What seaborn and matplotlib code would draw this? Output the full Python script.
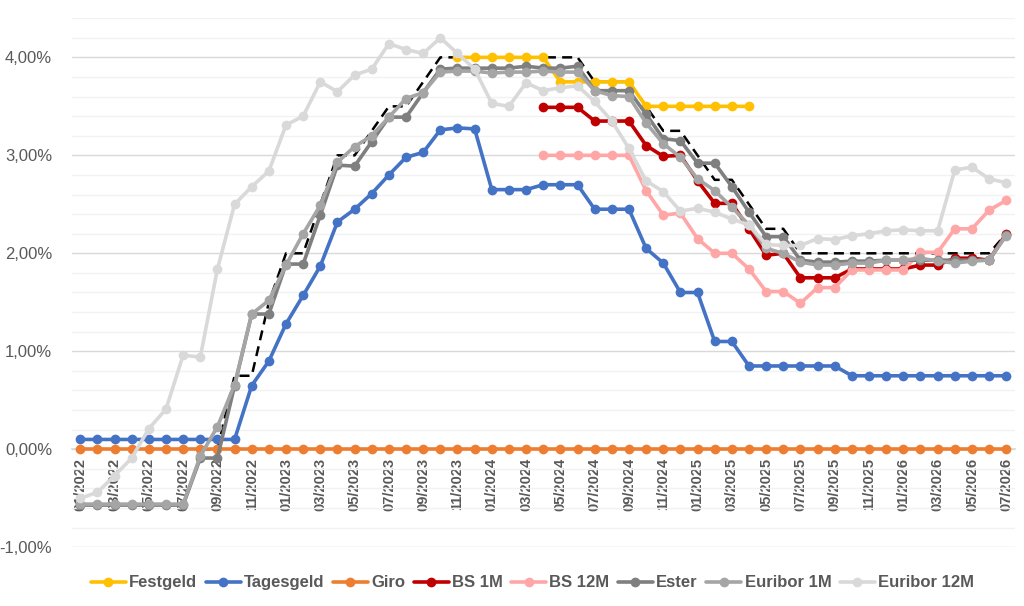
import numpy as np
import pandas as pd
import matplotlib
matplotlib.use("Agg")
import matplotlib.pyplot as plt
from matplotlib.ticker import MultipleLocator, FuncFormatter
import seaborn as sns

# monthly values in %, 01/2022 .. 07/2026
months = pd.date_range("2022-01-01", "2026-07-01", freq="MS").strftime("%m/%Y").tolist()

festgeld = [None, None, None, None, None, None, None, None, None, None,
            None, None, None, None, None, None, None, None, None, None,
            None, None, 4.00, 4.00, 4.00, 4.00, 4.00, 4.00, 3.75, 3.75,
            3.75, 3.75, 3.75, 3.50, 3.50, 3.50, 3.50, 3.50, 3.50, 3.50,
            None, None, None, None, None, None, None, None, None, None,
            None, None, None, None, None]
tagesgeld = [0.10, 0.10, 0.10, 0.10, 0.10, 0.10, 0.10, 0.10, 0.10, 0.10,
             0.65, 0.90, 1.28, 1.57, 1.87, 2.32, 2.45, 2.61, 2.80, 2.98,
             3.03, 3.26, 3.28, 3.27, 2.65, 2.65, 2.65, 2.70, 2.70, 2.70,
             2.45, 2.45, 2.45, 2.05, 1.90, 1.60, 1.60, 1.10, 1.10, 0.85,
             0.85, 0.85, 0.85, 0.85, 0.85, 0.75, 0.75, 0.75, 0.75, 0.75,
             0.75, 0.75, 0.75, 0.75, 0.75]
giro = [0.00, 0.00, 0.00, 0.00, 0.00, 0.00, 0.00, 0.00, 0.00, 0.00,
        0.00, 0.00, 0.00, 0.00, 0.00, 0.00, 0.00, 0.00, 0.00, 0.00,
        0.00, 0.00, 0.00, 0.00, 0.00, 0.00, 0.00, 0.00, 0.00, 0.00,
        0.00, 0.00, 0.00, 0.00, 0.00, 0.00, 0.00, 0.00, 0.00, 0.00,
        0.00, 0.00, 0.00, 0.00, 0.00, 0.00, 0.00, 0.00, 0.00, 0.00,
        0.00, 0.00, 0.00, 0.00, 0.00]
bs_1m = [None, None, None, None, None, None, None, None, None, None,
         None, None, None, None, None, None, None, None, None, None,
         None, None, None, None, None, None, None, 3.49, 3.49, 3.49,
         3.35, 3.35, 3.35, 3.10, 2.99, 3.00, 2.74, 2.51, 2.51, 2.25,
         1.98, 2.00, 1.75, 1.75, 1.75, 1.84, 1.84, 1.84, 1.84, 1.88,
         1.88, 1.95, 1.95, 1.93, 2.20]
bs_12m = [None, None, None, None, None, None, None, None, None, None,
          None, None, None, None, None, None, None, None, None, None,
          None, None, None, None, None, None, None, 3.00, 3.00, 3.00,
          3.00, 3.00, 3.00, 2.64, 2.39, 2.41, 2.15, 2.00, 2.00, 1.84,
          1.61, 1.61, 1.49, 1.65, 1.65, 1.83, 1.83, 1.83, 1.83, 2.01,
          2.01, 2.25, 2.25, 2.44, 2.54]
ester = [-0.57, -0.57, -0.57, -0.57, -0.57, -0.57, -0.57, -0.09, -0.09, 0.65,
         1.38, 1.38, 1.89, 1.89, 2.39, 2.90, 2.89, 3.14, 3.39, 3.39,
         3.64, 3.88, 3.89, 3.89, 3.89, 3.89, 3.91, 3.89, 3.89, 3.91,
         3.66, 3.66, 3.66, 3.42, 3.17, 3.15, 2.92, 2.92, 2.68, 2.42,
         2.17, 2.17, 1.93, 1.91, 1.91, 1.92, 1.92, 1.93, 1.93, 1.93,
         1.93, 1.93, 1.93, 1.93, 2.19]
euribor_1m = [-0.56, -0.56, -0.56, -0.56, -0.56, -0.56, -0.56, -0.07, 0.23, 0.66,
              1.38, 1.52, 1.88, 2.20, 2.49, 2.93, 3.09, 3.20, 3.39, 3.58,
              3.64, 3.85, 3.86, 3.86, 3.84, 3.85, 3.85, 3.86, 3.85, 3.85,
              3.66, 3.61, 3.60, 3.33, 3.12, 2.98, 2.76, 2.64, 2.47, 2.29,
              2.05, 2.00, 1.91, 1.88, 1.88, 1.90, 1.90, 1.93, 1.93, 1.95,
              1.92, 1.90, 1.92, 1.93, 2.18]
euribor_12m = [-0.50, -0.44, -0.27, -0.09, 0.21, 0.41, 0.96, 0.94, 1.84, 2.50,
               2.68, 2.84, 3.31, 3.40, 3.75, 3.65, 3.82, 3.88, 4.14, 4.08,
               4.04, 4.20, 4.04, 3.88, 3.53, 3.50, 3.74, 3.66, 3.69, 3.71,
               3.55, 3.35, 3.07, 2.74, 2.63, 2.43, 2.46, 2.42, 2.35, 2.29,
               2.09, 2.08, 2.08, 2.15, 2.14, 2.18, 2.20, 2.23, 2.24, 2.23,
               2.23, 2.85, 2.88, 2.76, 2.72]
# ECB deposit rate (dashed, not in legend)
ezb = [None, None, None, None, None, None, None, 0.00, 0.00, 0.75,
       0.75, 1.50, 2.00, 2.00, 2.50, 3.00, 3.00, 3.25, 3.50, 3.50,
       3.75, 4.00, 4.00, 4.00, 4.00, 4.00, 4.00, 4.00, 4.00, 4.00,
       3.75, 3.75, 3.75, 3.50, 3.25, 3.25, 3.00, 2.75, 2.75, 2.50,
       2.25, 2.25, 2.00, 2.00, 2.00, 2.00, 2.00, 2.00, 2.00, 2.00,
       2.00, 2.00, 2.00, 2.00, 2.20]

series = [
    ("Festgeld", festgeld, "#FFC000"),
    ("Tagesgeld", tagesgeld, "#4472C4"),
    ("Giro", giro, "#ED7D31"),
    ("BS 1M", bs_1m, "#C00000"),
    ("BS 12M", bs_12m, "#FFA6A6"),
    ("Ester", ester, "#7F7F7F"),
    ("Euribor 1M", euribor_1m, "#A5A5A5"),
    ("Euribor 12M", euribor_12m, "#D9D9D9"),
]

sns.set_theme(style="white")
plt.rcParams["font.family"] = ["Liberation Sans", "DejaVu Sans"]

fig, ax = plt.subplots(figsize=(10.24, 6.06), dpi=100)
fig.subplots_adjust(left=0.070, right=0.991, bottom=0.097, top=0.970)

x = np.arange(len(months))

sns.lineplot(x=x, y=np.array(ezb, dtype=float), ax=ax, color="black",
             linestyle=(0, (4, 2.5)), linewidth=1.8, zorder=2)

for name, vals, col in series:
    sns.lineplot(x=x, y=np.array(vals, dtype=float), ax=ax, color=col,
                 linewidth=2.6, marker="o", markersize=7,
                 markeredgewidth=0, label=name, zorder=3)

# x axis crosses at 0 (set before tick labels, it resets the ticks)
for s in ["top", "right", "left"]:
    ax.spines[s].set_visible(False)
ax.spines["bottom"].set_position(("data", 0))
ax.spines["bottom"].set_color("#D9D9D9")

ax.set_xlim(-0.5, 54.5)
ax.set_ylim(-1.0, 4.4)
ax.yaxis.set_major_locator(MultipleLocator(1.0))
ax.yaxis.set_minor_locator(MultipleLocator(0.2))
ax.yaxis.set_major_formatter(FuncFormatter(lambda v, p: f"{v:.2f}%".replace(".", ",")))
ax.grid(which="major", axis="y", color="#D9D9D9", linewidth=1.0, zorder=0)
ax.grid(which="minor", axis="y", color="#F2F2F2", linewidth=1.0, zorder=0)
ax.set_axisbelow(True)

ax.set_xticks(x[::2])
ax.set_xticklabels(months[::2])
ax.tick_params(axis="x", length=4, color="#D9D9D9", pad=2, labelrotation=90,
               labelsize=10.5, labelcolor="#595959")
for lab in ax.get_xticklabels():
    lab.set_fontweight("bold")
ax.tick_params(axis="y", which="both", length=0, labelsize=12, labelcolor="#595959", pad=14)
ax.set_xlabel("")
ax.set_ylabel("")

h, l = ax.get_legend_handles_labels()
ax.legend_.remove()
fig.legend(h, l, loc="center", bbox_to_anchor=(0.52, 0.038), ncol=8, frameon=False,
           handlelength=2.1, handletextpad=0.2, columnspacing=0.5,
           prop={"size": 12, "weight": "bold"}, labelcolor="#595959")

fig.savefig("out.png", dpi=100)
